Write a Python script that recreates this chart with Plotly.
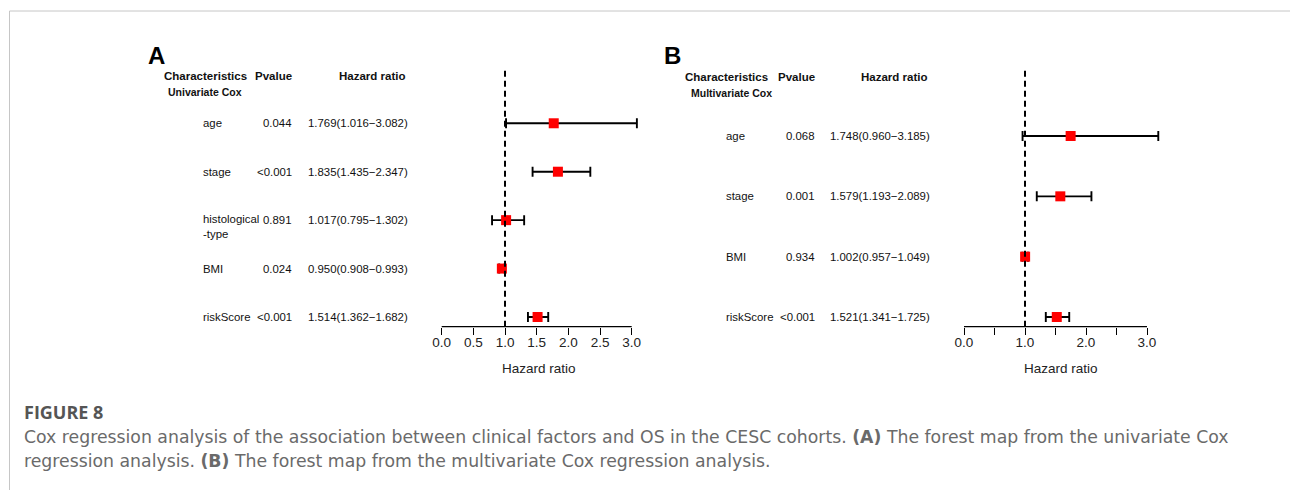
import plotly.graph_objects as go

# ---- Univariate Cox (panel A) ----
uni_vars = ["age", "stage", "histological<br>-type", "BMI", "riskScore"]
uni_p = ["0.044", "<0.001", "0.891", "0.024", "<0.001"]
uni_hr = [1.769, 1.835, 1.017, 0.950, 1.514]
uni_low = [1.016, 1.435, 0.795, 0.908, 1.362]
uni_high = [3.082, 2.347, 1.302, 0.993, 1.682]

# ---- Multivariate Cox (panel B) ----
multi_vars = ["age", "stage", "BMI", "riskScore"]
multi_p = ["0.068", "0.001", "0.934", "<0.001"]
multi_hr = [1.748, 1.579, 1.002, 1.521]
multi_low = [0.960, 1.193, 0.957, 1.341]
multi_high = [3.185, 2.089, 1.049, 1.725]

uni_ticks = [0, 0.5, 1, 1.5, 2, 2.5, 3]
uni_ticktext = ["0.0", "0.5", "1.0", "1.5", "2.0", "2.5", "3.0"]
multi_ticks = [0, 0.5, 1, 1.5, 2, 2.5, 3]
multi_ticktext = ["0.0", "", "1.0", "", "2.0", "", "3.0"]

W, H = 1290, 490
ARIAL = "Liberation Sans, Arial, sans-serif"
CAP_HEAD = "Open Sans, Noto Sans, sans-serif"
CAP_FONT = "DejaVu Sans, Verdana, sans-serif"
INK = "#111111"


def px(x):
    return x / W


def py(y):
    return 1 - y / H


def fmt_hr(h, lo, hi):
    return f"{h:.3f}({lo:.3f}\u2212{hi:.3f})"


fig = go.Figure()
annotations = []
shapes = []


def forest(hr, low, high, names, pvals, xa, ya, name_x, p_x, hr_x):
    n = len(hr)
    ys = [n - i for i in range(n)]
    fig.add_trace(go.Scatter(
        x=hr, y=ys, xaxis=xa, yaxis=ya, mode="markers",
        marker=dict(symbol="square", size=10, color="#ff0000", line=dict(width=0)),
        error_x=dict(type="data", symmetric=False,
                     array=[h - m for h, m in zip(high, hr)],
                     arrayminus=[m - l for m, l in zip(hr, low)],
                     color="black", thickness=1.9, width=5),
        cliponaxis=False, hoverinfo="skip", showlegend=False,
    ))
    for i in range(n):
        multi = "<br>" in names[i]
        annotations.append(dict(
            x=px(name_x), y=ys[i], xref="paper", yref=ya, text=names[i],
            xanchor="left", yanchor="middle", showarrow=False, align="left",
            yshift=-6 if multi else 0,
            font=dict(family=ARIAL, size=11.4, color=INK)))
        annotations.append(dict(
            x=px(p_x), y=ys[i], xref="paper", yref=ya, text=pvals[i],
            xanchor="right", yanchor="middle", showarrow=False,
            font=dict(family=ARIAL, size=11.4, color=INK)))
        annotations.append(dict(
            x=px(hr_x), y=ys[i], xref="paper", yref=ya,
            text=fmt_hr(hr[i], low[i], high[i]),
            xanchor="left", yanchor="middle", showarrow=False,
            font=dict(family=ARIAL, size=11.4, color=INK)))
    # reference line at HR = 1
    shapes.append(dict(type="line", xref=xa, yref=f"{ya} domain",
                       x0=1, x1=1, y0=0, y1=1,
                       line=dict(color="black", width=2, dash="6px,4px")))
    # axis baseline from 0 to 3
    shapes.append(dict(type="line", xref=xa, yref=f"{ya} domain",
                       x0=0, x1=3, y0=0, y1=0,
                       line=dict(color="black", width=1.3)))


forest(uni_hr, uni_low, uni_high, uni_vars, uni_p, "x", "y", 201, 293.5, 305.5)
forest(multi_hr, multi_low, multi_high, multi_vars, multi_p, "x2", "y2", 724, 816.5, 827.5)

# pixel geometry of the plotting panels
ax_top, ax_bot = 70, 326.7
a0, a_unit = 441.7, 63.33
b0, b_unit = 964.0, 61.0
xr = [-0.3, 3.3]

axis_common = dict(showgrid=False, zeroline=False, showline=False,
                   ticks="outside", ticklen=7, tickwidth=1.3, tickcolor="black",
                   ticklabelstandoff=-4,
                   tickfont=dict(family=ARIAL, size=13.5, color="#222"),
                   range=xr, fixedrange=True)

fig.update_layout(
    width=W, height=H, autosize=False,
    margin=dict(l=0, r=0, t=0, b=0),
    paper_bgcolor="white", plot_bgcolor="white",
    xaxis=dict(axis_common, domain=[px(a0 + xr[0] * a_unit), px(a0 + xr[1] * a_unit)],
               tickvals=uni_ticks, ticktext=uni_ticktext, anchor="y"),
    yaxis=dict(domain=[py(ax_bot), py(ax_top)], range=[0.8, 6.1], visible=False,
               anchor="x", fixedrange=True),
    xaxis2=dict(axis_common, domain=[px(b0 + xr[0] * b_unit), px(b0 + xr[1] * b_unit)],
                tickvals=multi_ticks, ticktext=multi_ticktext, anchor="y2"),
    yaxis2=dict(domain=[py(ax_bot), py(ax_top)], range=[0.839, 5.094], visible=False,
                anchor="x2", fixedrange=True),
)


def label(x, y, text, size, anchor="center", family=ARIAL, color=INK):
    annotations.append(dict(x=px(x), y=py(y), xref="paper", yref="paper", text=text,
                            xanchor=anchor, yanchor="middle", showarrow=False,
                            font=dict(family=family, size=size, color=color)))


# panel letters and column headers
label(146, 55, "<b>A</b>", 24, "left", color="black")
label(205, 76, "<b>Characteristics</b>", 11.5)
label(294, 76, "<b>Pvalue</b>", 11.5, "right")
label(407, 76, "<b>Hazard ratio</b>", 11.5, "right")
label(205, 92, "<b>Univariate Cox</b>", 10.5)
label(539, 368, "Hazard ratio", 13.5, color="#222")

label(662, 55, "<b>B</b>", 24, "left", color="black")
label(726, 77, "<b>Characteristics</b>", 11.5)
label(817, 77, "<b>Pvalue</b>", 11.5, "right")
label(929, 77, "<b>Hazard ratio</b>", 11.5, "right")
label(731, 93, "<b>Multivariate Cox</b>", 10.5)
label(1061, 368, "Hazard ratio", 13.5, color="#222")

# figure caption
label(22, 412, "<b>FIGURE 8</b>", 18, "left", CAP_HEAD, "#555")
label(22, 437, "Cox regression analysis of the association between clinical factors and OS in the CESC "
      "cohorts. <b>(A)</b> The forest map from the univariate Cox", 17.3, "left", CAP_FONT, "#6a6a6a")
label(22, 461, "regression analysis. <b>(B)</b> The forest map from the multivariate Cox regression "
      "analysis.", 17.3, "left", CAP_FONT, "#6a6a6a")

# page frame
shapes.append(dict(type="line", xref="paper", yref="paper", x0=px(9.5), x1=1,
                   y0=py(11), y1=py(11), line=dict(color="#c6c6c6", width=1)))
shapes.append(dict(type="line", xref="paper", yref="paper", x0=px(9.5), x1=px(9.5),
                   y0=py(11), y1=0, line=dict(color="#c6c6c6", width=1)))

fig.update_layout(annotations=annotations, shapes=shapes)
fig.write_html("out.html", config={"displayModeBar": False})
